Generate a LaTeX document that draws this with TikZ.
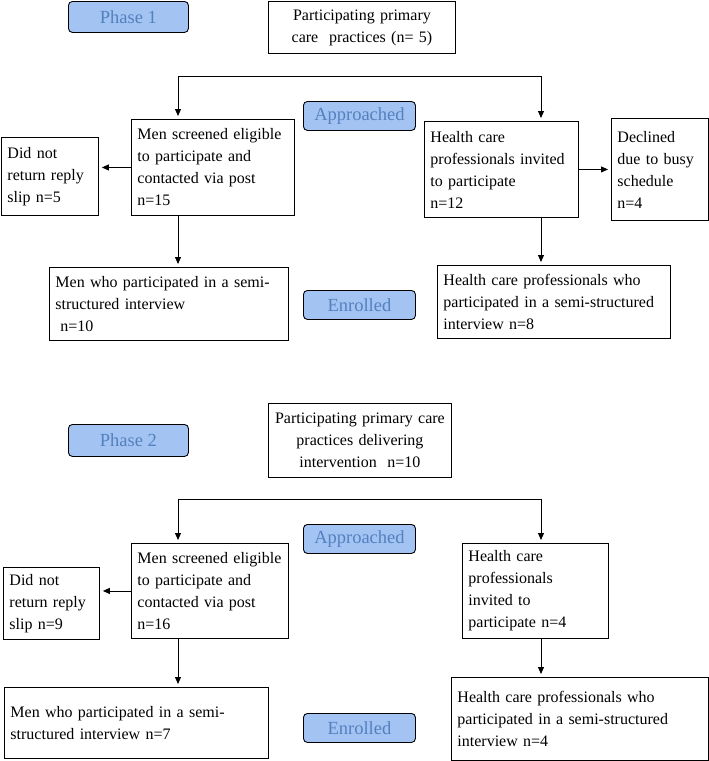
\documentclass[tikz,border=0pt]{standalone}
\usepackage{fontspec}
\setmainfont{Liberation Serif}
\usepackage{tikz}
\usetikzlibrary{arrows.meta, positioning}

\definecolor{stagefill}{RGB}{163,196,242}
\definecolor{stagetext}{RGB}{84,128,192}

\begin{document}
\begin{tikzpicture}[
                    x=1pt, y=-1pt,
                    every node/.style={anchor=north west, inner xsep=6pt, inner ysep=2pt},
                    box/.style={draw, rectangle, align=left, line width=0.9pt,
                                font=\fontsize{16}{22}\selectfont},
                    topbox/.style={box, align=center},
                    stage/.style={draw, rectangle, rounded corners=4pt, fill=stagefill,
                                  text=stagetext, line width=0.9pt, align=center,
                                  minimum width=112pt, minimum height=29pt,
                                  font=\fontsize{18.5}{20}\selectfont},
                    arrow/.style={-{Triangle[length=7pt,width=6pt]}, line width=0.9pt, shorten >=3pt},
                    link/.style={line width=0.9pt}
                    ]
\useasboundingbox (0,0) rectangle (709,761);

% Phase 1
\node[stage, minimum width=120pt, minimum height=31pt] (phase1) at (68,1) {Phase 1};
\node[topbox, text width=175pt, minimum height=52pt] (prac1) at (268,1)
  {Participating primary\\ care\ \ practices (n= 5)};
\node[stage] (appr1) at (303,101) {Approached};
\node[box, text width=151pt, minimum height=96pt] (men1) at (131,119)
  {Men screened eligible\\ to participate and\\ contacted via post\\ n=15};
\node[box, text width=85pt, minimum height=78pt] (noreply1) at (1,137)
  {Did not\\ return reply\\ slip n=5};
\node[box, text width=142pt, minimum height=96pt] (hcp1) at (424,121)
  {Health care\\ professionals invited\\ to participate\\ n=12};
\node[box, text width=85pt, minimum height=102pt] (declined1) at (611,118)
  {Declined\\ due to busy\\ schedule\\ n=4};
\node[box, text width=227pt, minimum height=73pt] (menint1) at (49,267)
  {Men who participated in a semi-\\ structured interview\\ \hspace*{0.3em}n=10};
\node[stage] (enrol1) at (303,290) {Enrolled};
\node[box, text width=221pt, minimum height=73pt] (hcpint1) at (437,265)
  {Health care professionals who\\ participated in a semi-structured\\ interview n=8};

\coordinate (split1l) at (178,76);
\coordinate (split1r) at (541,76);
\draw[link] (split1l) -- (split1r);
\draw[arrow] (split1l) -- (split1l |- men1.north);
\draw[arrow] (split1r) -- (split1r |- hcp1.north);
\draw[arrow] (men1.west) -- (men1.west -| noreply1.east);
\draw[arrow] (hcp1.east) -- (hcp1.east -| declined1.west);
\draw[arrow] (split1l |- men1.south) -- (split1l |- menint1.north);
\draw[arrow] (split1r |- hcp1.south) -- (split1r |- hcpint1.north);

% Phase 2
\node[stage, minimum width=120pt, minimum height=32pt] (phase2) at (68,424) {Phase 2};
\node[topbox, text width=171pt, minimum height=74pt] (prac2) at (268,403)
  {Participating primary care\\ practices delivering\\ intervention\ \ n=10};
\node[stage] (appr2) at (303,524) {Approached};
\node[box, text width=145pt, minimum height=95pt] (men2) at (131,543)
  {Men screened eligible\\ to participate and\\ contacted via post\\ n=16};
\node[box, text width=84pt, minimum height=72pt] (noreply2) at (3,567)
  {Did not\\ return reply\\ slip n=9};
\node[box, text width=134pt, minimum height=95pt] (hcp2) at (462,543)
  {Health care\\ professionals\\ invited to\\ participate n=4};
\node[box, text width=252pt, minimum height=71pt] (menint2) at (4,687)
  {Men who participated in a semi-\\ structured interview n=7};
\node[stage] (enrol2) at (303,713) {Enrolled};
\node[box, text width=245pt, minimum height=83pt] (hcpint2) at (451,677)
  {Health care professionals who\\ participated in a semi-structured\\ interview n=4};

\coordinate (split2l) at (178,499);
\coordinate (split2r) at (541,499);
\draw[link] (split2l) -- (split2r);
\draw[arrow] (split2l) -- (split2l |- men2.north);
\draw[arrow] (split2r) -- (split2r |- hcp2.north);
\draw[arrow] (men2.west) -- (men2.west -| noreply2.east);
\draw[arrow] (split2l |- men2.south) -- (split2l |- menint2.north);
\draw[arrow] (split2r |- hcp2.south) -- (split2r |- hcpint2.north);

\end{tikzpicture}
\end{document}
